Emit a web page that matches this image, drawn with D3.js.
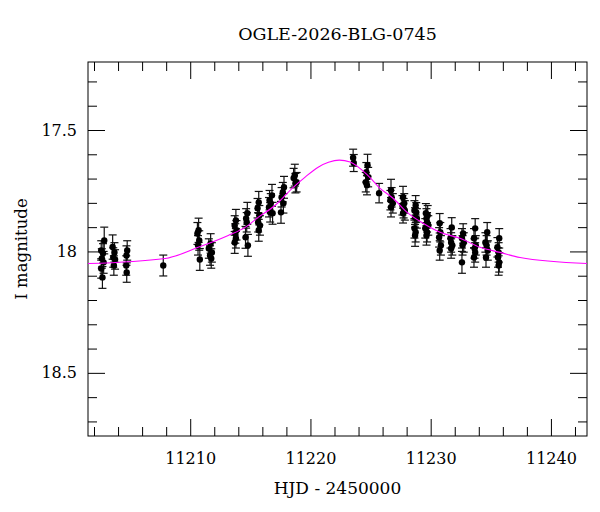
<!DOCTYPE html>
<html>
<head>
<meta charset="utf-8">
<script src="https://cdn.jsdelivr.net/npm/d3@7"></script>
<style>
  body { margin: 0; background: #fff; }
  svg text { font-family: "DejaVu Serif", serif; fill: #000; }
</style>
</head>
<body>
<svg id="chart"></svg>
<script>
// photometry
const hjd = [
  11202.85, 11202.60, 11202.75, 11202.65, 11202.80, 11202.60, 11202.70,
  11203.55, 11203.70, 11203.60, 11203.75, 11203.65,
  11204.76, 11204.70, 11204.68, 11204.72,
  11207.76,
  11210.70, 11210.60, 11210.75, 11210.65, 11210.80,
  11211.70, 11211.55, 11211.80, 11211.65, 11211.75,
  11213.80, 11213.70, 11213.85, 11213.75, 11213.80, 11213.70,
  11214.75, 11214.65, 11214.70, 11214.60, 11214.80,
  11215.70, 11215.60, 11215.75, 11215.65, 11215.80, 11215.70,
  11216.80, 11216.60, 11216.70, 11216.55, 11216.65, 11216.85,
  11217.80, 11217.70, 11217.60, 11217.75, 11217.55,
  11218.70, 11218.60, 11218.85, 11218.75,
  11223.55, 11223.60,
  11224.75, 11224.65, 11224.80, 11224.60, 11224.70,
  11225.71,
  11226.70, 11226.75, 11226.65, 11226.85, 11226.70,
  11227.70, 11227.80, 11227.65, 11227.75, 11227.85, 11227.70,
  11228.75, 11228.65, 11228.80, 11228.70, 11228.85, 11228.65, 11228.75, 11228.70,
  11229.60, 11229.75, 11229.65, 11229.70, 11229.80, 11229.55, 11229.70, 11229.65,
  11230.75, 11230.80, 11230.70, 11230.85, 11230.75,
  11231.75, 11231.65, 11231.70, 11231.80, 11231.70,
  11232.70, 11232.60, 11232.75, 11232.65, 11232.60,
  11233.70, 11233.60, 11233.75, 11233.65, 11233.70, 11233.60,
  11234.70, 11234.55, 11234.65, 11234.75, 11234.60,
  11235.70, 11235.55, 11235.65, 11235.60, 11235.70, 11235.65
];
const mag = [
  17.955, 17.996, 18.008, 18.029, 18.045, 18.070, 18.107,
  17.982, 18.004, 18.025, 18.033, 18.058,
  17.996, 18.017, 18.058, 18.087,
  18.058,
  17.913, 17.926, 17.955, 17.975, 18.033,
  17.967, 17.988, 18.004, 18.017, 18.029,
  17.872, 17.893, 17.913, 17.926, 17.946, 17.963,
  17.843, 17.864, 17.880, 17.942, 17.975,
  17.798, 17.822, 17.851, 17.880, 17.893, 17.913,
  17.769, 17.789, 17.802, 17.818, 17.839, 17.843,
  17.736, 17.756, 17.777, 17.802, 17.839,
  17.686, 17.698, 17.715, 17.719,
  17.614, 17.636,
  17.645, 17.674, 17.694, 17.715, 17.727,
  17.760,
  17.748, 17.777, 17.789, 17.802, 17.818,
  17.777, 17.802, 17.810, 17.822, 17.831, 17.843,
  17.810, 17.831, 17.839, 17.860, 17.864, 17.905, 17.921, 17.934,
  17.843, 17.851, 17.864, 17.880, 17.893, 17.905, 17.921, 17.934,
  17.884, 17.921, 17.942, 17.975, 17.996,
  17.901, 17.946, 17.963, 17.975, 17.988,
  17.926, 17.946, 17.963, 17.975, 18.045,
  17.905, 17.946, 17.975, 17.988, 18.004, 18.025,
  17.921, 17.963, 17.975, 17.996, 18.025,
  17.946, 17.983, 18.004, 18.025, 18.045, 18.058
];
const err = [
  0.055, 0.040, 0.040, 0.040, 0.045, 0.040, 0.045,
  0.050, 0.040, 0.040, 0.040, 0.040,
  0.040, 0.040, 0.040, 0.040,
  0.043,
  0.050, 0.045, 0.040, 0.040, 0.045,
  0.040, 0.040, 0.040, 0.040, 0.040,
  0.045, 0.040, 0.040, 0.040, 0.040, 0.045,
  0.045, 0.040, 0.040, 0.045, 0.045,
  0.045, 0.040, 0.040, 0.040, 0.040, 0.045,
  0.045, 0.040, 0.040, 0.040, 0.040, 0.045,
  0.045, 0.040, 0.040, 0.040, 0.045,
  0.045, 0.040, 0.040, 0.040,
  0.035, 0.035,
  0.045, 0.040, 0.040, 0.040, 0.040,
  0.040,
  0.045, 0.040, 0.040, 0.040, 0.040,
  0.045, 0.040, 0.040, 0.040, 0.040, 0.040,
  0.040, 0.040, 0.040, 0.040, 0.040, 0.040, 0.040, 0.045,
  0.040, 0.040, 0.040, 0.040, 0.040, 0.040, 0.040, 0.040,
  0.040, 0.040, 0.040, 0.040, 0.040,
  0.040, 0.040, 0.040, 0.040, 0.040,
  0.040, 0.040, 0.040, 0.040, 0.045,
  0.040, 0.040, 0.040, 0.040, 0.040, 0.040,
  0.040, 0.040, 0.040, 0.040, 0.040,
  0.040, 0.040, 0.040, 0.040, 0.040, 0.040
];

// model light curve
const modelHjd = [11201.5, 11207.92, 11210.66, 11213.16, 11214.57, 11215.65, 11217.07, 11218.48,
  11219.56, 11220.64, 11221.5, 11222.4, 11223.3, 11224.71, 11225.79, 11226.87, 11228.04,
  11229.37, 11230.78, 11232.44, 11234.11, 11235.77, 11237.43, 11243.0];
const modelMag = [18.050, 18.029, 17.983, 17.934, 17.901, 17.860, 17.810, 17.740,
  17.694, 17.653, 17.633, 17.624, 17.632, 17.684, 17.740, 17.781, 17.839,
  17.884, 17.921, 17.946, 17.983, 18.004, 18.025, 18.050];

const xMajor = [11210, 11220, 11230, 11240];
const yMajor = [17.5, 18, 18.5];
const titleText = "OGLE-2026-BLG-0745";
const xTitle = "HJD - 2450000";
const yTitle = "I magnitude";

const width = 600, height = 512;
const margin = { top: 62, right: 13, bottom: 76, left: 88 };
const w = width - margin.left - margin.right;
const h = height - margin.top - margin.bottom;

const svg = d3.select("#chart").attr("width", width).attr("height", height);
const chart = svg.append("g").attr("transform", `translate(${margin.left},${margin.top})`);

const xScale = d3.scaleLinear().domain([11201.5, 11243]).range([0, w]);
const yScale = d3.scaleLinear().domain([17.22, 18.76]).range([0, h]);

const xMinor = d3.range(11202, 11243, 2).filter(d => !xMajor.includes(d));
const yMinor = d3.range(17.3, 18.75, 0.1).map(d => +d.toFixed(1)).filter(d => !yMajor.includes(d));

const MAJ = 17, MIN = 9;

// clip for data and curve
svg.append("defs").append("clipPath").attr("id", "clip")
  .append("rect").attr("width", w).attr("height", h);

// axes on all four sides, ticks pointing inward
function addAxis(axisFn, values, size, transform, labels) {
  const g = chart.append("g").attr("transform", transform)
    .call(axisFn.tickValues(values).tickSizeInner(-size).tickSizeOuter(0)
      .tickFormat(labels ? (d => String(d)) : ""));
  g.select(".domain").remove();
  g.selectAll(".tick line").attr("stroke", "#000");
  return g;
}

const bx = addAxis(d3.axisBottom(xScale), xMajor, MAJ, `translate(0,${h})`, true);
bx.selectAll("text").attr("y", 17).attr("font-size", 16);
addAxis(d3.axisBottom(xScale), xMinor, MIN, `translate(0,${h})`, false);
addAxis(d3.axisTop(xScale), xMajor, MAJ, "translate(0,0)", false);
addAxis(d3.axisTop(xScale), xMinor, MIN, "translate(0,0)", false);

const ly = addAxis(d3.axisLeft(yScale), yMajor, MAJ, "translate(0,0)", true);
ly.selectAll("text").attr("x", -11).attr("font-size", 16);
addAxis(d3.axisLeft(yScale), yMinor, MIN, "translate(0,0)", false);
addAxis(d3.axisRight(yScale), yMajor, MAJ, `translate(${w},0)`, false);
addAxis(d3.axisRight(yScale), yMinor, MIN, `translate(${w},0)`, false);

chart.append("rect")
  .attr("width", w).attr("height", h)
  .attr("fill", "none").attr("stroke", "#000").attr("stroke-width", 1);

// data points with error bars
const pts = hjd.map((t, i) => ({ t: t, m: mag[i], e: err[i] }));
const dataG = chart.append("g").attr("clip-path", "url(#clip)");

const bars = dataG.selectAll(".eb").data(pts).join("g").attr("class", "eb");
bars.append("line")
  .attr("x1", d => xScale(d.t)).attr("x2", d => xScale(d.t))
  .attr("y1", d => yScale(d.m - d.e)).attr("y2", d => yScale(d.m + d.e))
  .attr("stroke", "#111").attr("stroke-width", 1.2);
bars.append("line")
  .attr("x1", d => xScale(d.t) - 4).attr("x2", d => xScale(d.t) + 4)
  .attr("y1", d => yScale(d.m - d.e)).attr("y2", d => yScale(d.m - d.e))
  .attr("stroke", "#111").attr("stroke-width", 1.2);
bars.append("line")
  .attr("x1", d => xScale(d.t) - 4).attr("x2", d => xScale(d.t) + 4)
  .attr("y1", d => yScale(d.m + d.e)).attr("y2", d => yScale(d.m + d.e))
  .attr("stroke", "#111").attr("stroke-width", 1.2);

dataG.selectAll(".pt").data(pts).join("circle").attr("class", "pt")
  .attr("cx", d => xScale(d.t)).attr("cy", d => yScale(d.m))
  .attr("r", 3.2).attr("fill", "#000");

// model curve
const model = modelHjd.map((t, i) => ({ t: t, m: modelMag[i] }));
dataG.append("path")
  .datum(model)
  .attr("fill", "none")
  .attr("stroke", "#ff00ff")
  .attr("stroke-width", 1.1)
  .attr("d", d3.line().curve(d3.curveMonotoneX)
    .x(d => xScale(d.t)).y(d => yScale(d.m)));

// titles
svg.append("text")
  .attr("x", margin.left + w / 2).attr("y", 40)
  .attr("text-anchor", "middle").attr("font-size", 17.5)
  .text(titleText);

svg.append("text")
  .attr("x", margin.left + w / 2).attr("y", 494)
  .attr("text-anchor", "middle").attr("font-size", 17)
  .text(xTitle);

svg.append("text")
  .attr("transform", `translate(27,${margin.top + h / 2}) rotate(-90)`)
  .attr("text-anchor", "middle").attr("font-size", 16.5)
  .text(yTitle);
</script>
</body>
</html>
